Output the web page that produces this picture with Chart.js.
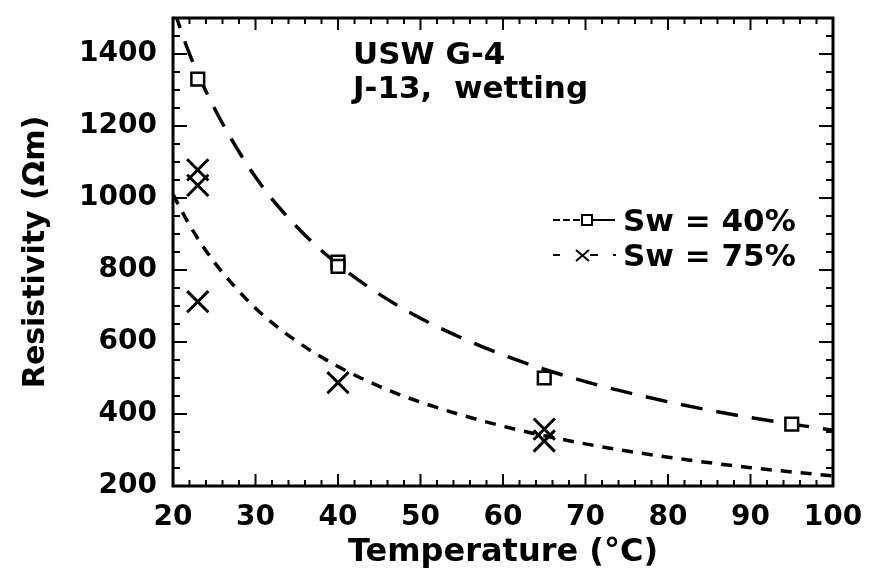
<!DOCTYPE html>
<html>
<head>
<meta charset="utf-8">
<script src="https://cdn.jsdelivr.net/npm/chart.js@4/dist/chart.umd.min.js"></script>
<style>
  html, body { margin: 0; padding: 0; background: #fff; }
</style>
</head>
<body>
<canvas id="chart" width="871" height="576"></canvas>
<script>
// tick labels
const xTicks = [20, 30, 40, 50, 60, 70, 80, 90, 100];
const yTicks = [200, 400, 600, 800, 1000, 1200, 1400];

// measured points
const sw40T = [23, 40, 40, 65, 95];
const sw40R = [1330, 822, 810, 500, 372];
const sw75T = [23, 23, 23, 40, 65, 65];
const sw75R = [1078, 1035, 712, 487, 358, 325];

// fitted curves
const fitT = [20, 22, 25, 30, 35, 40, 45, 50, 60, 70, 80, 90, 100];
const fit40R = [1530, 1400, 1250, 1058, 920, 815, 733, 666, 564, 490, 434, 390, 355];
const fit75R = [1010, 925, 822, 694, 602, 532, 477, 433, 366, 317, 280, 251, 228];

const FONT = '"DejaVu Sans", sans-serif';
const pts = (xs, ys) => xs.map((x, i) => ({ x, y: ys[i] }));

const framePlugin = {
  id: 'frame',
  afterDraw(chart) {
    const { ctx, chartArea: a, scales: { x, y } } = chart;
    ctx.save();
    ctx.strokeStyle = '#000';
    ctx.fillStyle = '#000';
    ctx.lineWidth = 2;
    ctx.beginPath();
    for (let v = 20; v <= 100; v += 2) {
      const px = x.getPixelForValue(v);
      const len = v % 10 === 0 ? 12 : 6;
      ctx.moveTo(px, a.bottom); ctx.lineTo(px, a.bottom - len);
      ctx.moveTo(px, a.top); ctx.lineTo(px, a.top + len);
    }
    for (let v = 200; v <= 1500; v += 50) {
      const py = y.getPixelForValue(v);
      const len = v % 200 === 0 ? 14 : 7;
      ctx.moveTo(a.left, py); ctx.lineTo(a.left + len, py);
      ctx.moveTo(a.right, py); ctx.lineTo(a.right - len, py);
    }
    ctx.stroke();
    ctx.lineWidth = 3;
    ctx.strokeRect(a.left, a.top, a.width, a.height);

    // labels inside the plot
    ctx.font = 'bold 31px ' + FONT;
    ctx.textBaseline = 'alphabetic';
    ctx.textAlign = 'left';
    ctx.fillText('USW G-4', 353, 64);
    ctx.fillText('J-13,  wetting', 353, 98);

    // legend
    ctx.fillText('Sw = 40%', 623, 231);
    ctx.fillText('Sw = 75%', 623, 266);
    ctx.lineWidth = 2;
    ctx.setLineDash([7, 3]);
    ctx.beginPath(); ctx.moveTo(553, 220); ctx.lineTo(581, 220); ctx.stroke();
    ctx.setLineDash([]);
    ctx.beginPath(); ctx.moveTo(593, 220); ctx.lineTo(615, 220); ctx.stroke();
    ctx.strokeRect(582, 215, 10, 10);
    ctx.beginPath();
    ctx.moveTo(553, 255); ctx.lineTo(560, 255);
    ctx.moveTo(590, 255); ctx.lineTo(598, 255);
    ctx.moveTo(613, 255); ctx.lineTo(616, 255);
    ctx.moveTo(576, 250); ctx.lineTo(589, 261);
    ctx.moveTo(576, 261); ctx.lineTo(589, 250);
    ctx.stroke();
    ctx.restore();
  }
};

new Chart(document.getElementById('chart'), {
  type: 'scatter',
  data: {
    datasets: [
      {
        label: 'Sw = 40%',
        data: pts(sw40T, sw40R),
        pointStyle: 'rect',
        pointRadius: 9,
        pointBorderWidth: 2.5,
        pointBackgroundColor: '#fff',
        pointBorderColor: '#000',
        showLine: false
      },
      {
        label: 'Sw = 75%',
        data: pts(sw75T, sw75R),
        pointStyle: 'crossRot',
        pointRadius: 15,
        pointBorderWidth: 3,
        pointBorderColor: '#000',
        showLine: false
      },
      {
        label: 'fit 40%',
        data: pts(fitT, fit40R),
        showLine: true,
        borderColor: '#000',
        borderWidth: 3.5,
        borderDash: [22, 14],
        pointRadius: 0,
        cubicInterpolationMode: 'monotone'
      },
      {
        label: 'fit 75%',
        data: pts(fitT, fit75R),
        showLine: true,
        borderColor: '#000',
        borderWidth: 3.5,
        borderDash: [11, 9],
        pointRadius: 0,
        cubicInterpolationMode: 'monotone'
      }
    ]
  },
  options: {
    responsive: false,
    animation: false,
    devicePixelRatio: 1,
    layout: { padding: { left: 0, right: 38, top: 14, bottom: 0 } },
    plugins: { legend: { display: false }, tooltip: { enabled: false } },
    scales: {
      x: {
        type: 'linear',
        min: 20,
        max: 100,
        afterBuildTicks: s => { s.ticks = xTicks.map(v => ({ value: v })); },
        afterFit: s => { s.height = 90; s.paddingLeft = 0; s.paddingRight = 0; },
        grid: { display: false, drawTicks: false },
        border: { display: false },
        ticks: {
          color: '#000', padding: 15,
          callback: v => String(v),
          font: { family: FONT, size: 28, weight: 'bold' }
        },
        title: {
          display: true,
          text: 'Temperature (°C)',
          color: '#000',
          padding: { top: 0, bottom: 4 },
          font: { family: FONT, size: 32, weight: 'bold' }
        }
      },
      y: {
        type: 'linear',
        min: 200,
        max: 1500,
        afterBuildTicks: s => { s.ticks = yTicks.map(v => ({ value: v })); },
        afterFit: s => { s.width = 173; s.paddingTop = 0; s.paddingBottom = 0; },
        grid: { display: false, drawTicks: false },
        border: { display: false },
        ticks: {
          color: '#000', padding: 16,
          callback: v => String(v),
          font: { family: FONT, size: 28, weight: 'bold', lineHeight: 1 }
        },
        title: {
          display: true,
          text: 'Resistivity (Ωm)',
          color: '#000',
          padding: 18,
          font: { family: FONT, size: 30, weight: 'bold' }
        }
      }
    }
  },
  plugins: [framePlugin]
});
</script>
</body>
</html>
